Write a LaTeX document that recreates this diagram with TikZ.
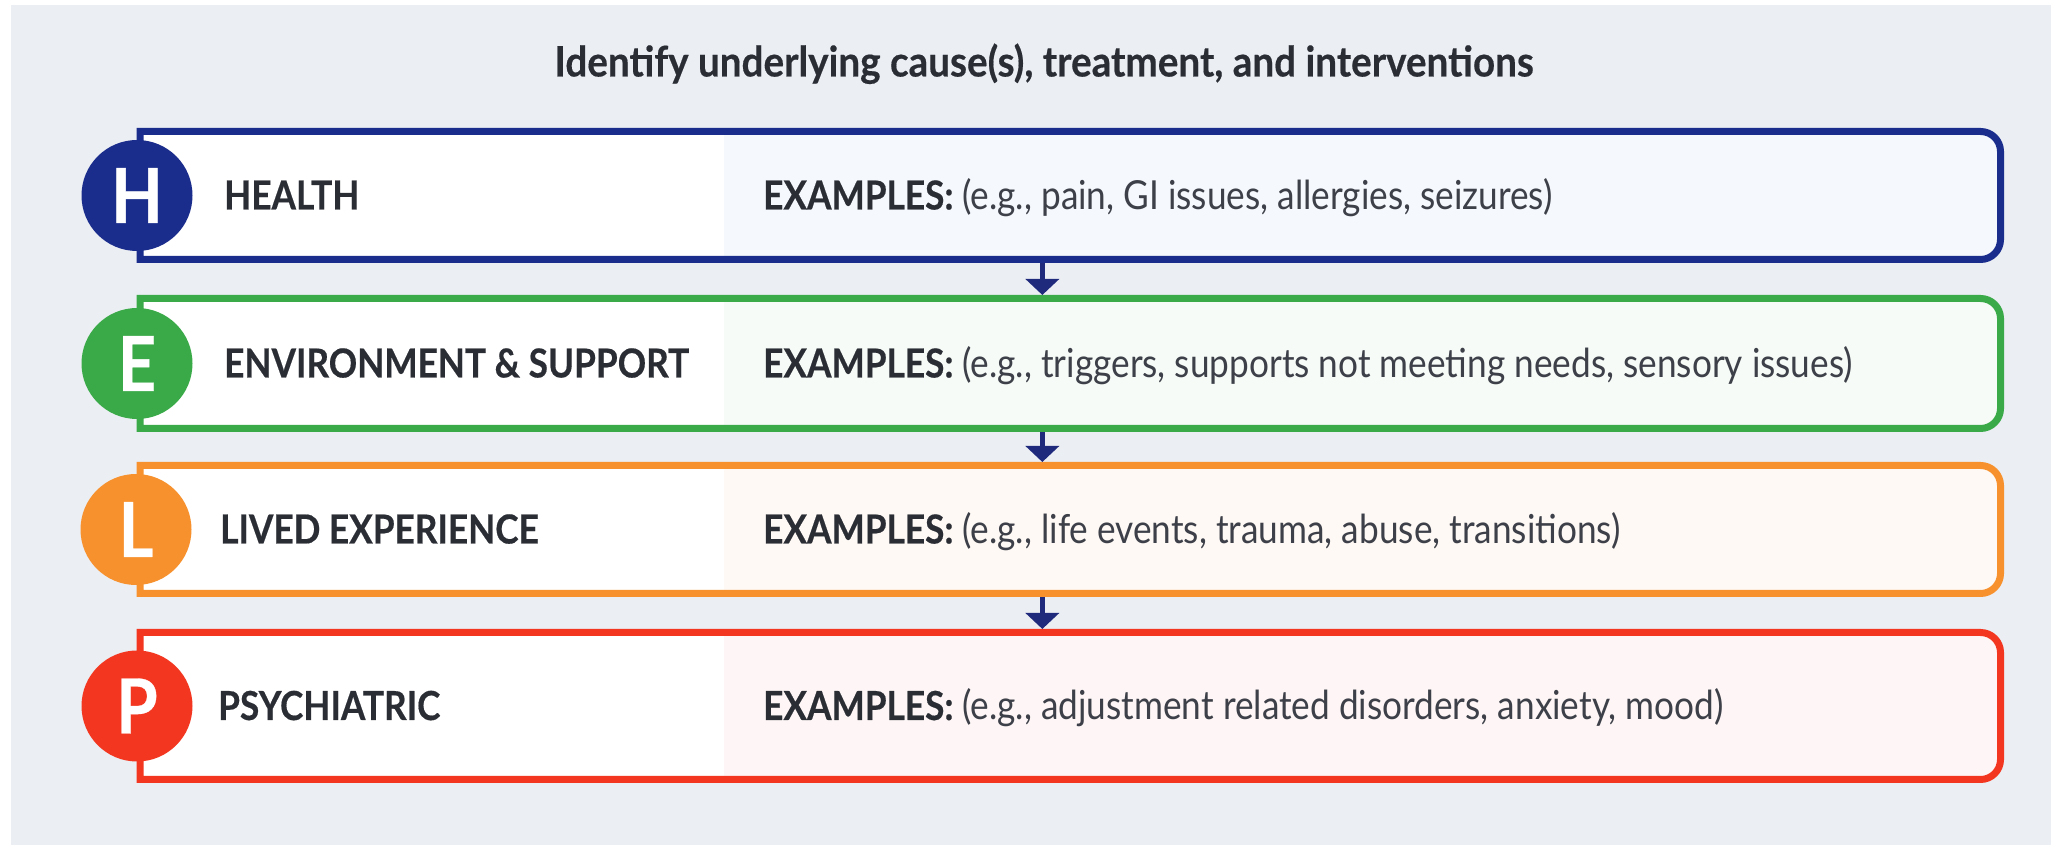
\documentclass[tikz,border=0pt]{standalone}
\usepackage{fontspec}
\setmainfont{Lato}
\newfontfamily\narrowfont{Lato}[FakeStretch=0.88,BoldFeatures={FakeBold=0.4}]
\newfontfamily\titlefont{Lato}[FakeStretch=0.92,BoldFeatures={FakeBold=0.4}]
\usetikzlibrary{arrows.meta,calc}

\definecolor{bggray}{HTML}{EBEEF3}
\definecolor{hblue}{HTML}{1B2D8C}
\definecolor{egreen}{HTML}{3AAA48}
\definecolor{lorange}{HTML}{F7912D}
\definecolor{pred}{HTML}{F3361F}
\definecolor{htint}{HTML}{F5F8FC}
\definecolor{etint}{HTML}{F6FBF7}
\definecolor{ltint}{HTML}{FEF9F5}
\definecolor{ptint}{HTML}{FEF6F6}
\definecolor{inkdark}{HTML}{2A2D34}
\definecolor{inkgray}{HTML}{3D4048}
\definecolor{arrownavy}{HTML}{1F2A7C}

% outline of one row: square left corners, rounded right corners
\newcommand\panelpath[1]{(#1.north west) -- ([xshift=-20pt]#1.north east)
  arc[start angle=90,end angle=0,radius=20pt] -- ([yshift=20pt]#1.south east)
  arc[start angle=0,end angle=-90,radius=20pt] -- (#1.south west) -- cycle}

% node, border colour, tint of the examples half
\newcommand\rowpanel[3]{%
  \fill[#3] \panelpath{#1};
  \fill[white] (#1.north west) rectangle (#1.south west -| tintedge);
  \draw[#2,line width=7pt] \panelpath{#1};
}

\tikzset{
  rowbox/.style={rectangle,draw=none,inner sep=0pt,outer sep=0pt,
    minimum width=1860.5pt,anchor=north west},
  badge/.style={circle,inner sep=0pt,minimum size=111pt,text=white,
    font=\narrowfont\fontsize{76}{76}\selectfont\bfseries},
  cattext/.style={anchor=base west,inner sep=0pt,text=inkdark,
    font=\narrowfont\fontsize{40}{44}\selectfont\bfseries},
  extext/.style={anchor=base west,inner sep=0pt,text=inkgray,
    font=\narrowfont\fontsize{40}{44}\selectfont},
  titletext/.style={anchor=base,inner sep=0pt,text=inkdark,
    font=\titlefont\fontsize{42}{46}\selectfont\bfseries},
  flow/.style={arrownavy,line width=5pt,-{Triangle[width=33pt,length=16pt]},
    shorten <=3.5pt,shorten >=3.5pt}
}

\begin{document}
\begin{tikzpicture}[x=1pt,y=1pt]
\useasboundingbox (0,0) rectangle (2051,845);
\fill[white] (0,0) rectangle (2051,845);
\fill[bggray] (11,0) rectangle (2051,840);

\coordinate (tintedge) at (724,0);

\node[titletext] (title) at (1044,768.5) {Identify underlying cause(s), treatment, and interventions};

% row frames
\node[rowbox,minimum height=128pt] (h) at (140,713.5) {};
\node[rowbox,minimum height=130pt] (e) at (140,546.5) {};
\node[rowbox,minimum height=128pt] (l) at (140,379.5) {};
\node[rowbox,minimum height=147pt] (p) at (140,212.5) {};

\rowpanel{h}{hblue}{htint}
\rowpanel{e}{egreen}{etint}
\rowpanel{l}{lorange}{ltint}
\rowpanel{p}{pred}{ptint}

% letter badges
\node[badge,fill=hblue] (hb) at ([xshift=-3pt]h.west) {H};
\node[badge,fill=egreen] (eb) at ([xshift=-3pt]e.west) {E};
\node[badge,fill=lorange] (lb) at ([xshift=-4pt]l.west) {L};
\node[badge,fill=pred] (pb) at ([xshift=-3pt]p.west) {P};

% category names
\node[cattext] (hl) at ($(h.west)+(84,-14)$) {HEALTH};
\node[cattext] (el) at ($(e.west)+(84,-14)$) {ENVIRONMENT \& SUPPORT};
\node[cattext] (ll) at ($(l.west)+(80,-14)$) {LIVED EXPERIENCE};
\node[cattext] (pl) at ($(p.west)+(78,-14)$) {PSYCHIATRIC};

% examples
\node[extext] (hx) at ($(h.west)+(623,-14)$) {\textbf{\color{inkdark}EXAMPLES:} (e.g., pain, GI issues, allergies, seizures)};
\node[extext] (ex) at ($(e.west)+(623,-14)$) {\textbf{\color{inkdark}EXAMPLES:} (e.g., triggers, supports not meeting needs, sensory issues)};
\node[extext] (lx) at ($(l.west)+(623,-14)$) {\textbf{\color{inkdark}EXAMPLES:} (e.g., life events, trauma, abuse, transitions)};
\node[extext] (px) at ($(p.west)+(623,-14)$) {\textbf{\color{inkdark}EXAMPLES:} (e.g., adjustment related disorders, anxiety, mood)};

% flow between rows
\draw[flow] ($(h.south west)!0.485!(h.south east)$) -- ($(e.north west)!0.485!(e.north east)$);
\draw[flow] ($(e.south west)!0.485!(e.south east)$) -- ($(l.north west)!0.485!(l.north east)$);
\draw[flow] ($(l.south west)!0.485!(l.south east)$) -- ($(p.north west)!0.485!(p.north east)$);
\end{tikzpicture}
\end{document}
